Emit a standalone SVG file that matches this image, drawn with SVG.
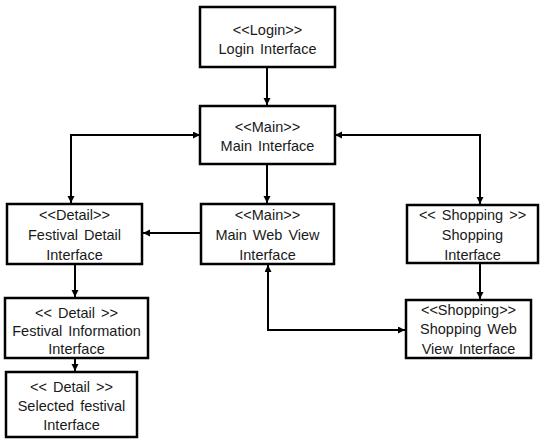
<svg xmlns="http://www.w3.org/2000/svg" width="540" height="442" viewBox="0 0 540 442">
<style>
.box{fill:#fff;stroke:#000;stroke-width:2.5}
.lbl{font-family:"Liberation Sans",Arial,sans-serif;font-size:14.5px;fill:#1a1a1a;text-anchor:middle;word-spacing:2px}
.con{fill:none;stroke:#000;stroke-width:2}
.a{marker-end:url(#ah)}
.b{marker-start:url(#ah);marker-end:url(#ah)}
</style>
<defs>
<marker id="ah" markerUnits="userSpaceOnUse" markerWidth="8" markerHeight="8" refX="7" refY="3.5" orient="auto-start-reverse">
<path d="M0,0 L7,3.5 L0,7 z" fill="#000"/>
</marker>
</defs>
<rect width="540" height="442" fill="#fff"/>
<g id="connectors">
<path class="con a" d="M267,67 V105"/>
<path class="con b" d="M200,135 H71 V203"/>
<path class="con b" d="M335,135 H480 V204"/>
<path class="con a" d="M267,164 V203"/>
<path class="con a" d="M201,233 H143"/>
<path class="con a" d="M480,263 V299"/>
<path class="con b" d="M405,330 H268 V265"/>
<path class="con a" d="M75,264 V297"/>
<path class="con a" d="M75,358 V371"/>
</g>
<g id="login">
<rect class="box" x="200" y="7" width="135" height="60"/>
<text class="lbl" x="267.5" y="35">&lt;&lt;Login&gt;&gt;</text>
<text class="lbl" x="267.5" y="54">Login Interface</text>
</g>
<g id="main">
<rect class="box" x="200" y="106" width="135" height="58"/>
<text class="lbl" x="267.5" y="132">&lt;&lt;Main&gt;&gt;</text>
<text class="lbl" x="267.5" y="151">Main Interface</text>
</g>
<g id="detail">
<rect class="box" x="7" y="204" width="135" height="60"/>
<text class="lbl" x="74.5" y="220">&lt;&lt;Detail&gt;&gt;</text>
<text class="lbl" x="74.5" y="240">Festival Detail</text>
<text class="lbl" x="74.5" y="260">Interface</text>
</g>
<g id="mainweb">
<rect class="box" x="201" y="204" width="133" height="60"/>
<text class="lbl" x="267.5" y="220">&lt;&lt;Main&gt;&gt;</text>
<text class="lbl" x="267.5" y="240">Main Web View</text>
<text class="lbl" x="267.5" y="260">Interface</text>
</g>
<g id="shopping">
<rect class="box" x="407" y="205" width="131" height="58"/>
<text class="lbl" x="472.5" y="220">&lt;&lt; Shopping &gt;&gt;</text>
<text class="lbl" x="472.5" y="240">Shopping</text>
<text class="lbl" x="472.5" y="260">Interface</text>
</g>
<g id="shoppingweb">
<rect class="box" x="406" y="300" width="125" height="58"/>
<text class="lbl" x="468.5" y="315">&lt;&lt;Shopping&gt;&gt;</text>
<text class="lbl" x="468.5" y="334">Shopping Web</text>
<text class="lbl" x="468.5" y="354">View Interface</text>
</g>
<g id="festinfo">
<rect class="box" x="5" y="298" width="143" height="60"/>
<text class="lbl" x="76.5" y="318">&lt;&lt; Detail &gt;&gt;</text>
<text class="lbl" x="76.5" y="336">Festival Information</text>
<text class="lbl" x="76.5" y="354">Interface</text>
</g>
<g id="selected">
<rect class="box" x="6" y="372" width="131" height="65"/>
<text class="lbl" x="71.5" y="392">&lt;&lt; Detail &gt;&gt;</text>
<text class="lbl" x="71.5" y="411">Selected festival</text>
<text class="lbl" x="71.5" y="430">Interface</text>
</g>
</svg>
